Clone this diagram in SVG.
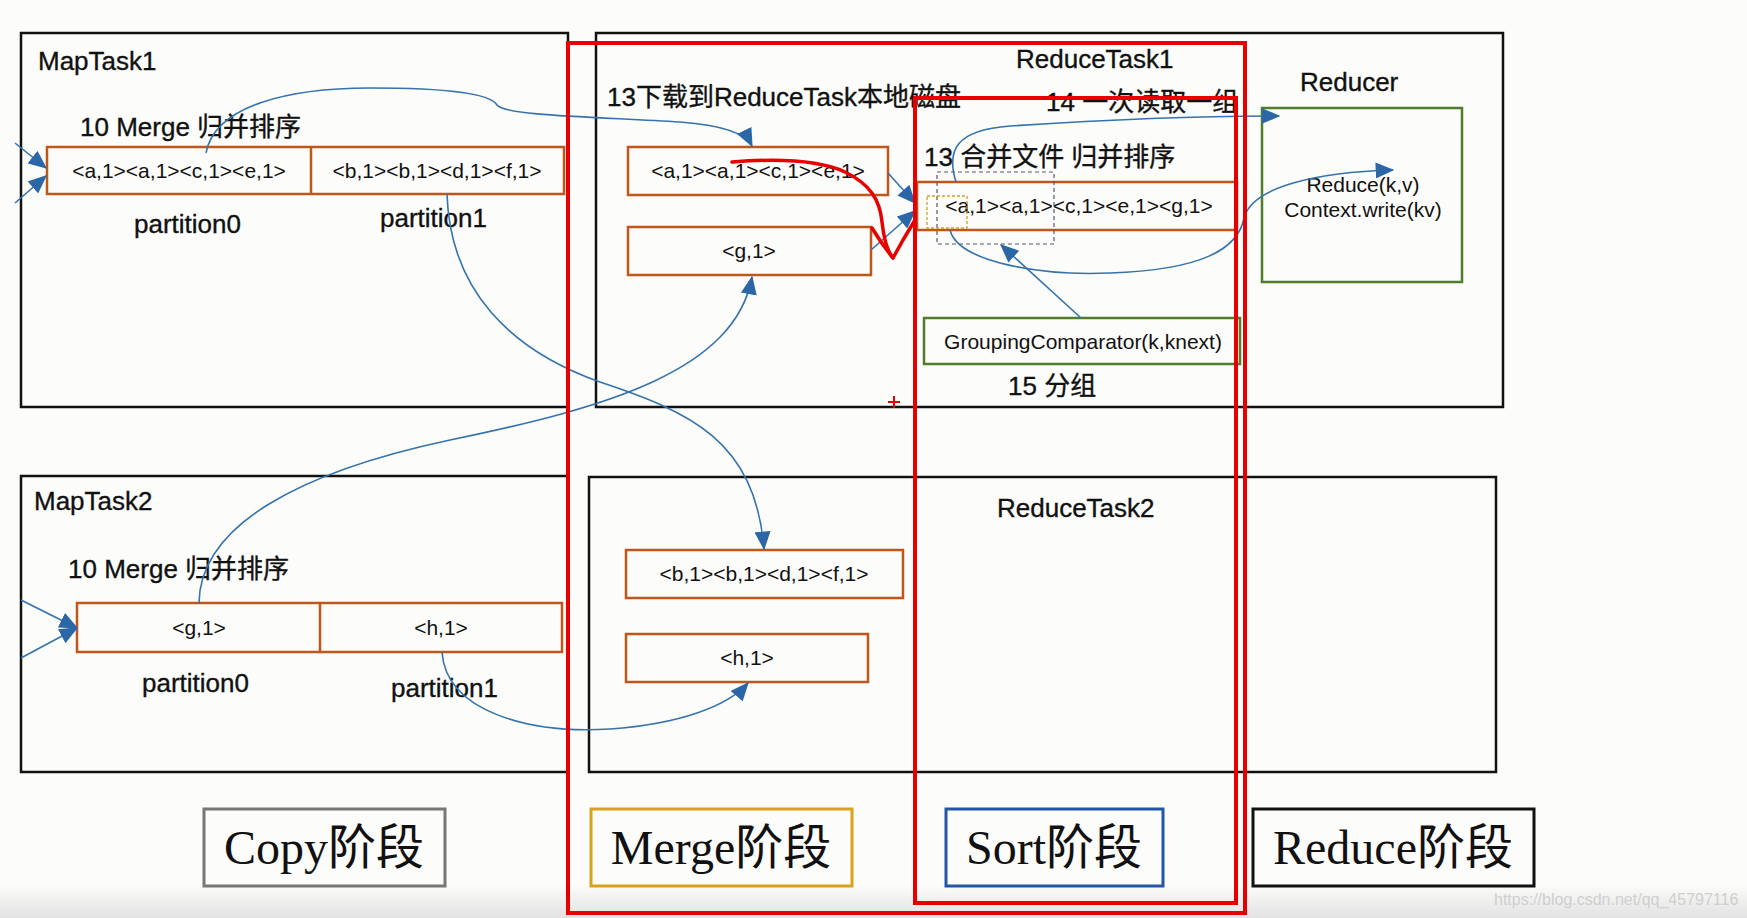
<svg xmlns="http://www.w3.org/2000/svg" width="1747" height="918" viewBox="0 0 1747 918">
<style>
.bg{fill:#fcfcfa}
.task{fill:none;stroke:#111;stroke-width:2.5}
.ob{fill:none;stroke:#c0561a;stroke-width:2.5}
.gb{fill:none;stroke:#4f7d2c;stroke-width:2.5}
.lbl{font-family:"Liberation Sans","Noto Sans CJK SC",sans-serif;font-size:26px;fill:#111;stroke:#111;stroke-width:0.35}
.bt{font-family:"Liberation Sans","Noto Sans CJK SC",sans-serif;font-size:21px;fill:#111;text-anchor:middle}
.stg{font-family:"Liberation Serif","Noto Sans CJK SC",serif;font-size:48px;fill:#111;text-anchor:middle}
.con{fill:none;stroke:#3573ad;stroke-width:1.6}
.red{fill:none;stroke:#e80000;stroke-width:4}
.redc{fill:none;stroke:#e80000;stroke-width:3.5;stroke-linejoin:round;stroke-linecap:round}
</style>
<defs>
<marker id="arr" viewBox="0 0 14 12" refX="13" refY="6" markerWidth="19" markerHeight="16" markerUnits="userSpaceOnUse" orient="auto">
<path d="M0,0 L14,6 L0,12 z" fill="#2b67a6"/>
</marker>
<linearGradient id="fade" x1="0" y1="0" x2="0" y2="1">
<stop offset="0" stop-color="#fcfcfa"/>
<stop offset="1" stop-color="#e2e2e2"/>
</linearGradient>
</defs>
<rect class="bg" x="0" y="0" width="1747" height="918"/>
<rect x="0" y="884" width="1747" height="34" fill="url(#fade)"/>

<g id="maptask1">
<rect class="task" x="21" y="33" width="547" height="374"/>
<text class="lbl" x="38" y="70">MapTask1</text>
<text class="lbl" x="80" y="136">10 Merge 归并排序</text>
<rect class="ob" x="47" y="147" width="517" height="47"/>
<line class="ob" x1="311" y1="147" x2="311" y2="194"/>
<text class="bt" x="179" y="178">&lt;a,1&gt;&lt;a,1&gt;&lt;c,1&gt;&lt;e,1&gt;</text>
<text class="bt" x="437" y="178">&lt;b,1&gt;&lt;b,1&gt;&lt;d,1&gt;&lt;f,1&gt;</text>
<text class="lbl" x="134" y="233">partition0</text>
<text class="lbl" x="380" y="227">partition1</text>
</g>

<g id="maptask2">
<rect class="task" x="21" y="476" width="547" height="296"/>
<text class="lbl" x="34" y="510">MapTask2</text>
<text class="lbl" x="68" y="578">10 Merge 归并排序</text>
<rect class="ob" x="77" y="603" width="485" height="49"/>
<line class="ob" x1="320" y1="603" x2="320" y2="652"/>
<text class="bt" x="199" y="635">&lt;g,1&gt;</text>
<text class="bt" x="441" y="635">&lt;h,1&gt;</text>
<text class="lbl" x="142" y="692">partition0</text>
<text class="lbl" x="391" y="697">partition1</text>
</g>

<g id="reducetask1">
<rect class="task" x="596" y="33" width="907" height="374"/>
<text class="lbl" x="1016" y="68">ReduceTask1</text>
<text class="lbl" x="607" y="106">13下载到ReduceTask本地磁盘</text>
<text class="lbl" x="1046" y="111">14 一次读取一组</text>
<text class="lbl" x="924" y="166">13 合并文件 归并排序</text>
<text class="lbl" x="1008" y="395">15 分组</text>
</g>

<g id="merge-a">
<rect class="ob" x="628" y="147" width="260" height="48"/>
<text class="bt" x="758" y="178">&lt;a,1&gt;&lt;a,1&gt;&lt;c,1&gt;&lt;e,1&gt;</text>
</g>
<g id="merge-g">
<rect class="ob" x="628" y="227" width="243" height="48"/>
<text class="bt" x="749" y="258">&lt;g,1&gt;</text>
</g>
<g id="sorted">
<rect class="ob" x="917" y="182" width="320" height="48"/>
<text class="bt" x="1079" y="213">&lt;a,1&gt;&lt;a,1&gt;&lt;c,1&gt;&lt;e,1&gt;&lt;g,1&gt;</text>
<rect x="937" y="172" width="117" height="72" fill="none" stroke="#505a6e" stroke-width="1.2" stroke-dasharray="4 3"/>
<rect x="927" y="196" width="40" height="32" fill="none" stroke="#c9a227" stroke-width="1.3" stroke-dasharray="3 2"/>
</g>
<g id="grouping">
<rect class="gb" x="924" y="318" width="316" height="46"/>
<text class="bt" x="1083" y="349">GroupingComparator(k,knext)</text>
</g>
<g id="reducer">
<text class="lbl" x="1300" y="91">Reducer</text>
<rect class="gb" x="1262" y="108" width="200" height="174"/>
<text class="bt" x="1363" y="192">Reduce(k,v)</text>
<text class="bt" x="1363" y="217">Context.write(kv)</text>
</g>

<g id="reducetask2">
<rect class="task" x="589" y="477" width="907" height="295"/>
<text class="lbl" x="997" y="517">ReduceTask2</text>
</g>
<g id="merge-b">
<rect class="ob" x="626" y="550" width="277" height="48"/>
<text class="bt" x="764" y="581">&lt;b,1&gt;&lt;b,1&gt;&lt;d,1&gt;&lt;f,1&gt;</text>
</g>
<g id="merge-h">
<rect class="ob" x="626" y="634" width="242" height="48"/>
<text class="bt" x="747" y="665">&lt;h,1&gt;</text>
</g>

<g id="connectors">
<line class="con" x1="15" y1="143" x2="46" y2="168" marker-end="url(#arr)"/>
<line class="con" x1="15" y1="203" x2="46" y2="176" marker-end="url(#arr)"/>
<line class="con" x1="21" y1="600" x2="77" y2="628" marker-end="url(#arr)"/>
<line class="con" x1="21" y1="658" x2="77" y2="628" marker-end="url(#arr)"/>
<path class="con" d="M206 153 C215 105,290 88,370 88 C440 88,490 93,497 105 C505 116,600 117,680 122 C720 125,745 132,752 146" marker-end="url(#arr)"/>
<path class="con" d="M447 194 C450 290,510 350,600 382 C690 412,755 440,764 549" marker-end="url(#arr)"/>
<path class="con" d="M199 603 C200 525,300 472,450 440 C610 407,735 370,752 277" marker-end="url(#arr)"/>
<path class="con" d="M442 652 C446 712,530 734,610 729 C680 724,728 706,748 683" marker-end="url(#arr)"/>
<line class="con" x1="888" y1="173" x2="915" y2="203" marker-end="url(#arr)"/>
<line class="con" x1="871" y1="250" x2="915" y2="211" marker-end="url(#arr)"/>
<path class="con" d="M950 230 C958 262,1040 276,1110 273 C1200 270,1238 250,1244 218 C1252 186,1320 172,1393 170" marker-end="url(#arr)"/>
<path class="con" d="M956 182 C946 150,956 130,1010 126 C1100 120,1200 116,1279 116" marker-end="url(#arr)"/>
<line class="con" x1="1081" y1="318" x2="1001" y2="245" marker-end="url(#arr)"/>
</g>

<g id="stages">
<rect x="204" y="809" width="241" height="77" fill="none" stroke="#777" stroke-width="3"/>
<text class="stg" x="324" y="864">Copy阶段</text>
<rect x="591" y="809" width="261" height="77" fill="none" stroke="#d9a21b" stroke-width="3"/>
<text class="stg" x="721" y="864">Merge阶段</text>
<rect x="946" y="809" width="217" height="77" fill="none" stroke="#2356a8" stroke-width="3"/>
<text class="stg" x="1054" y="864">Sort阶段</text>
<rect x="1253" y="809" width="281" height="77" fill="none" stroke="#111" stroke-width="3"/>
<text class="stg" x="1393" y="864">Reduce阶段</text>
</g>

<g id="phase-frames">
<rect class="red" x="568" y="43" width="677" height="870"/>
<rect class="red" x="915" y="98" width="321" height="805"/>
<path class="redc" d="M732 162 C770 159,815 158,845 172 C870 184,880 200,882 222 C884 240,888 252,893 258 L903 240 L915 220"/>
<path class="redc" d="M872 228 C878 238,885 248,893 258"/>
<path d="M888 402 H900 M894 396 V408" stroke="#e80000" stroke-width="2" fill="none"/>
</g>

<text x="1494" y="905" font-family="Liberation Sans, sans-serif" font-size="16" fill="#cfcfcf">https://blog.csdn.net/qq_45797116</text>
</svg>
